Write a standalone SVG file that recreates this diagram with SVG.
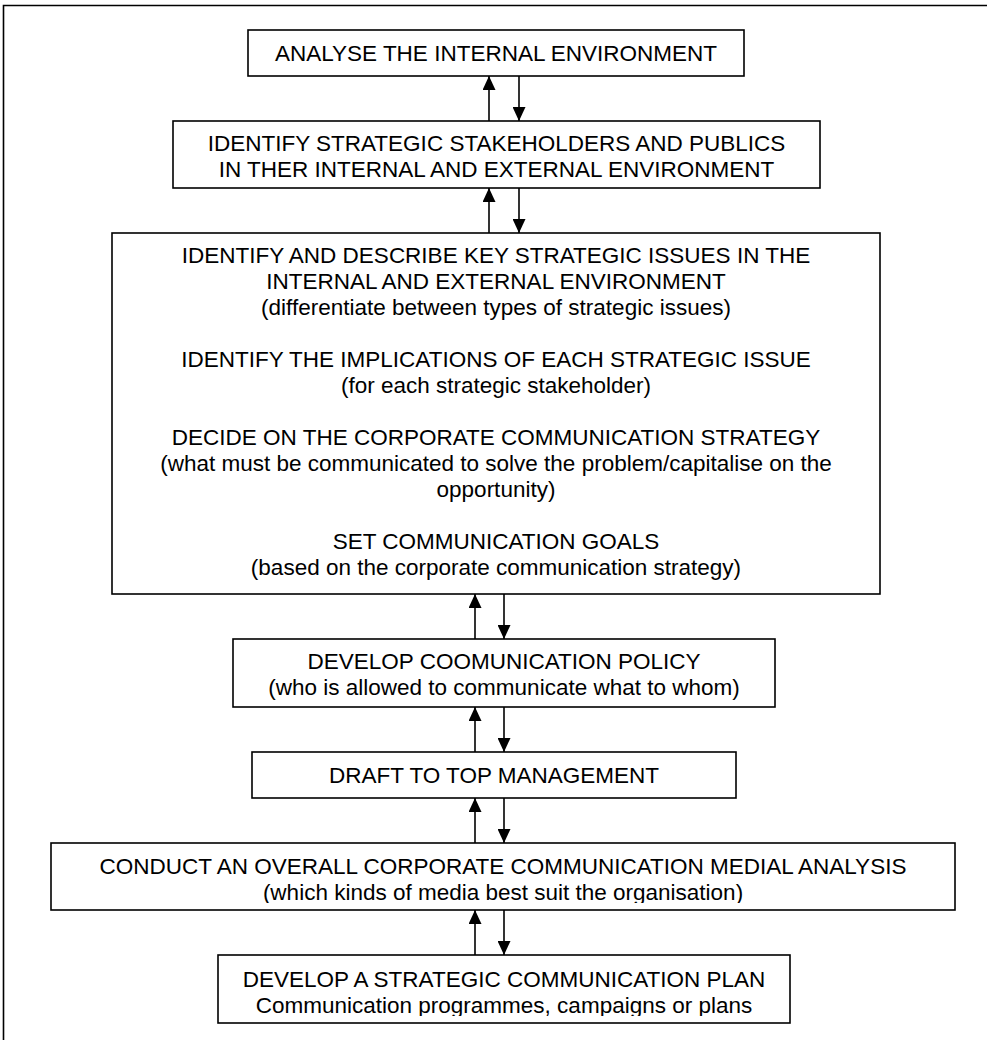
<svg xmlns="http://www.w3.org/2000/svg" width="987" height="1040" viewBox="0 0 987 1040">
<style>
.box{fill:#fff;stroke:#000;stroke-width:1.6}
.t{font-family:"Liberation Sans",Arial,sans-serif;font-size:22.5px;fill:#000;text-anchor:middle}
.c{stroke:#000;stroke-width:1.6;fill:none;marker-end:url(#ah)}
</style>
<defs>
<marker id="ah" viewBox="0 0 14 13" refX="14" refY="6.5" markerWidth="14" markerHeight="13" markerUnits="userSpaceOnUse" orient="auto"><path d="M0,0 L14,6.5 L0,13 z" fill="#000"/></marker>
<clipPath id="cl6"><rect x="51" y="843" width="904" height="60"/></clipPath>
<clipPath id="cl7"><rect x="218" y="955" width="572" height="61"/></clipPath>
</defs>
<rect width="987" height="1040" fill="#fff"/>
<path d="M3.5,1040 V5.5 H987" fill="none" stroke="#000" stroke-width="1.6"/>
<g id="connectors">
<path class="c" d="M489,121 V76"/>
<path class="c" d="M519,76 V121"/>
<path class="c" d="M489,233 V188"/>
<path class="c" d="M519,188 V233"/>
<path class="c" d="M475,639 V594"/>
<path class="c" d="M504,594 V639"/>
<path class="c" d="M475,752 V707"/>
<path class="c" d="M504,707 V752"/>
<path class="c" d="M475,843 V798"/>
<path class="c" d="M504,798 V843"/>
<path class="c" d="M475,955 V910"/>
<path class="c" d="M504,910 V955"/>
</g>
<g id="n1">
<rect class="box" x="248" y="30" width="496" height="46"/>
<text class="t" x="496" y="61">ANALYSE THE INTERNAL ENVIRONMENT</text>
</g>
<g id="n2">
<rect class="box" x="173" y="121" width="647" height="67"/>
<text class="t" x="496.5" y="151">IDENTIFY STRATEGIC STAKEHOLDERS AND PUBLICS</text>
<text class="t" x="496.5" y="177">IN THER INTERNAL AND EXTERNAL ENVIRONMENT</text>
</g>
<g id="n3">
<rect class="box" x="112" y="233" width="768" height="361"/>
<text class="t" x="496" y="263">IDENTIFY AND DESCRIBE KEY STRATEGIC ISSUES IN THE</text>
<text class="t" x="496" y="289">INTERNAL AND EXTERNAL ENVIRONMENT</text>
<text class="t" x="496" y="315">(differentiate between types of strategic issues)</text>
<text class="t" x="496" y="367">IDENTIFY THE IMPLICATIONS OF EACH STRATEGIC ISSUE</text>
<text class="t" x="496" y="393">(for each strategic stakeholder)</text>
<text class="t" x="496" y="445">DECIDE ON THE CORPORATE COMMUNICATION STRATEGY</text>
<text class="t" x="496" y="471">(what must be communicated to solve the problem/capitalise on the</text>
<text class="t" x="496" y="497">opportunity)</text>
<text class="t" x="496" y="549">SET COMMUNICATION GOALS</text>
<text class="t" x="496" y="575">(based on the corporate communication strategy)</text>
</g>
<g id="n4">
<rect class="box" x="233" y="639" width="542" height="68"/>
<text class="t" x="504" y="669">DEVELOP COOMUNICATION POLICY</text>
<text class="t" x="504" y="695">(who is allowed to communicate what to whom)</text>
</g>
<g id="n5">
<rect class="box" x="252" y="752" width="484" height="46"/>
<text class="t" x="494" y="783">DRAFT TO TOP MANAGEMENT</text>
</g>
<g id="n6">
<rect class="box" x="51" y="843" width="904" height="67"/>
<g clip-path="url(#cl6)">
<text class="t" x="503" y="874">CONDUCT AN OVERALL CORPORATE COMMUNICATION MEDIAL ANALYSIS</text>
<text class="t" x="503" y="900">(which kinds of media best suit the organisation)</text>
</g>
</g>
<g id="n7">
<rect class="box" x="218" y="955" width="572" height="68"/>
<g clip-path="url(#cl7)">
<text class="t" x="504" y="987">DEVELOP A STRATEGIC COMMUNICATION PLAN</text>
<text class="t" x="504" y="1013">Communication programmes, campaigns or plans</text>
</g>
</g>
</svg>
